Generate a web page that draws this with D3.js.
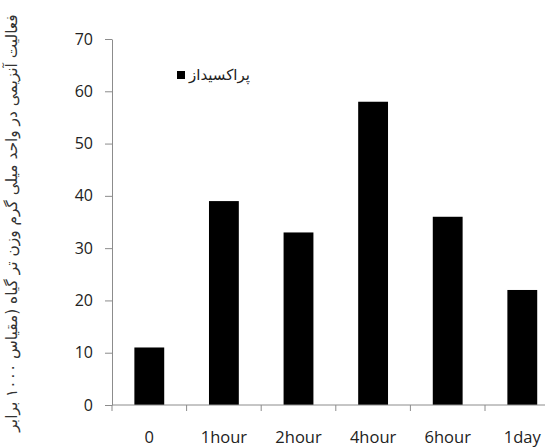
<!DOCTYPE html>
<html>
<head>
<meta charset="utf-8">
<script src="https://cdn.jsdelivr.net/npm/d3@7"></script>
<style>
  body { margin: 0; background: #fff; }
  svg { display: block; }
  .tick text { font-family: "Open Sans", sans-serif; fill: #222; }
</style>
</head>
<body>
<div id="chart"></div>
<script>
const categories = ["0", "1hour", "2hour", "4hour", "6hour", "1day"];
const values = [11, 39, 33, 58, 36, 22];
const yTicks = [0, 10, 20, 30, 40, 50, 60, 70];
const seriesName = "پراکسیداز";
const yTitle = "فعالیت آنزیمی در واحد میلی گرم وزن تر گیاه (مقیاس ۱۰۰۰ برابر";

const width = 545, height = 448;
const plotLeft = 112, plotTop = 39, plotBottom = 405;
const axisColor = "#8c8c8c";

const svg = d3.select("#chart").append("svg")
  .attr("width", width)
  .attr("height", height);

const x = d3.scaleBand()
  .domain(categories)
  .range([plotLeft, plotLeft + 6 * 74.6])
  .paddingInner(0.6)
  .paddingOuter(0.3);

const y = d3.scaleLinear()
  .domain([0, 70])
  .range([plotBottom, plotTop]);

// bars
svg.selectAll(".bar")
  .data(values)
  .enter()
  .append("rect")
  .attr("class", "bar")
  .attr("x", (d, i) => x(categories[i]))
  .attr("y", d => y(d))
  .attr("width", x.bandwidth())
  .attr("height", d => y(0) - y(d))
  .attr("fill", "#000");

// y axis
const yAxis = svg.append("g")
  .attr("transform", `translate(${plotLeft},0)`)
  .call(d3.axisLeft(y).tickValues(yTicks).tickSize(7).tickPadding(12).tickSizeOuter(0));
yAxis.selectAll("line, path").attr("stroke", axisColor);
yAxis.selectAll("text").style("font-size", "16px");

// x axis (labels only, ticks drawn at band edges)
const xAxis = svg.append("g")
  .attr("transform", `translate(0,${plotBottom})`)
  .call(d3.axisBottom(x).tickSize(0).tickPadding(26).tickSizeOuter(0));
xAxis.select("path").attr("stroke", axisColor).attr("d", `M${plotLeft},0H${width}`);
xAxis.selectAll("text").style("font-size", "16.5px");

const gap = (x.step() - x.bandwidth()) / 2;
svg.selectAll(".xtick")
  .data(categories)
  .enter()
  .append("line")
  .attr("class", "xtick")
  .attr("x1", d => x(d) - gap)
  .attr("x2", d => x(d) - gap)
  .attr("y1", plotBottom)
  .attr("y2", plotBottom + 6)
  .attr("stroke", axisColor);

// legend
const legend = svg.append("g").attr("transform", "translate(177,71)");
legend.append("rect")
  .attr("width", 8).attr("height", 8)
  .attr("fill", "#000");
legend.append("text")
  .attr("x", 12).attr("y", 9)
  .attr("text-anchor", "start")
  .style("font-family", "DejaVu Sans, sans-serif")
  .style("font-size", "15px")
  .attr("fill", "#222")
  .text(seriesName);

// y title
svg.append("text")
  .attr("transform", "translate(17,223) rotate(-90)")
  .attr("text-anchor", "middle")
  .style("font-family", "DejaVu Sans, sans-serif")
  .style("font-size", "15.4px")
  .attr("fill", "#333")
  .text(yTitle);
</script>
</body>
</html>
